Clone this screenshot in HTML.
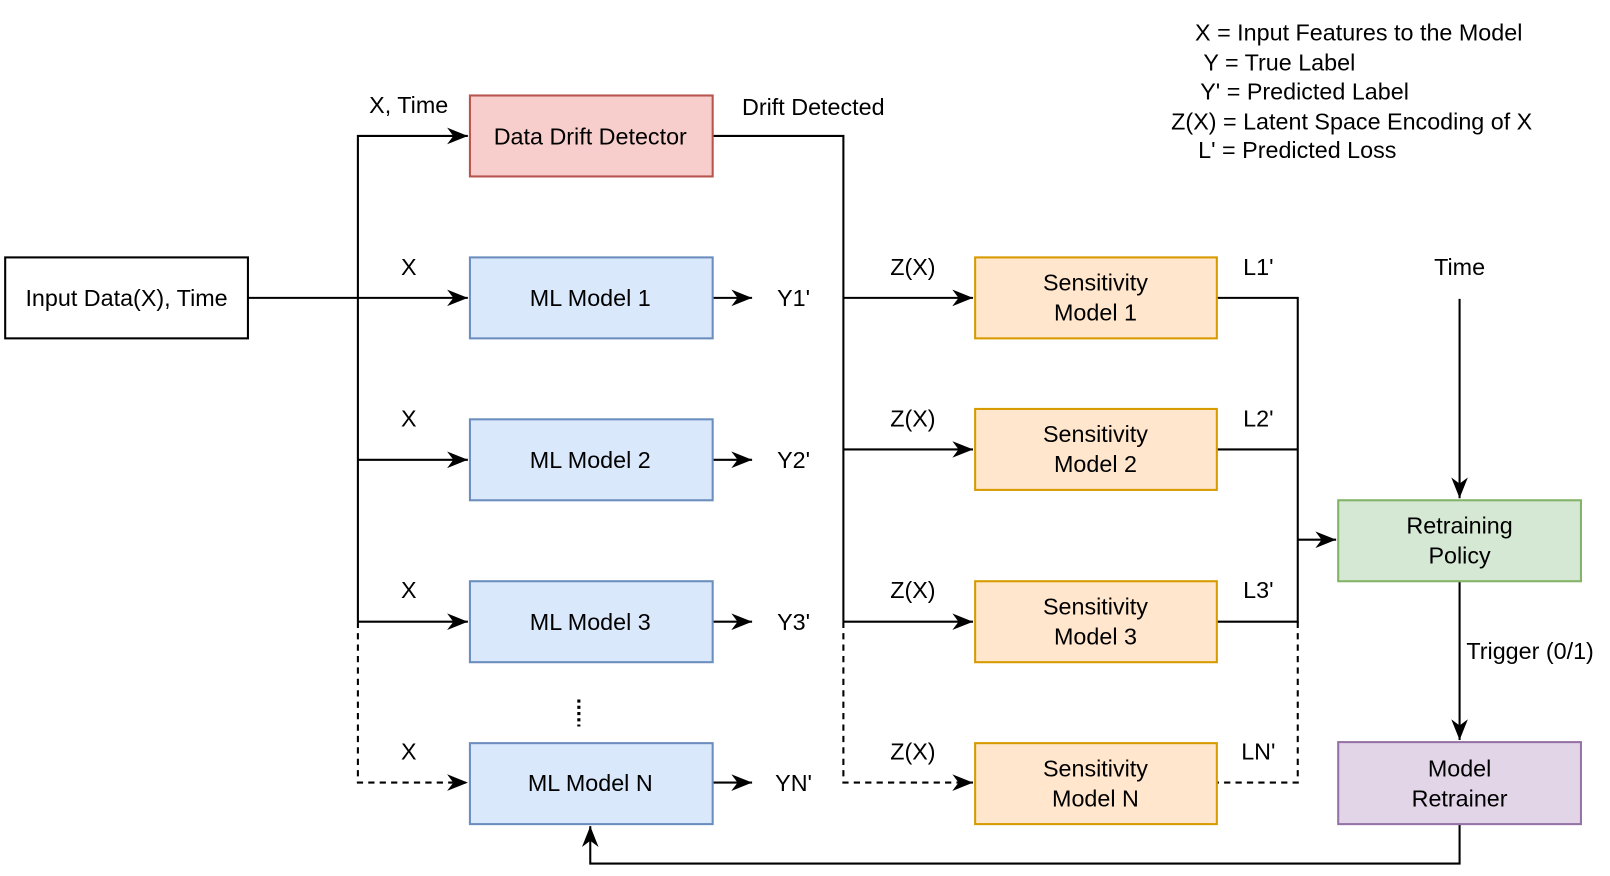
<!DOCTYPE html>
<html><head><meta charset="utf-8"><style>
html,body{margin:0;padding:0;background:#fff;}
svg{display:block;}
text{font-family:"Liberation Sans",Arial,sans-serif;font-size:22.5px;fill:#000;}
</style></head><body>
<svg width="1610" height="876" viewBox="0 0 1552 844" preserveAspectRatio="none" xmlns="http://www.w3.org/2000/svg">
<defs>
<marker id="b" viewBox="0 0 20 20" refX="20" refY="10" markerWidth="20" markerHeight="20" markerUnits="userSpaceOnUse" orient="auto">
<path d="M0,2 L20,10 L0,18 L6,10 Z" fill="#000"/>
</marker>
</defs>
<g fill="none" stroke="#000" stroke-width="2">
<path d="M239,287 H345"/>
<path d="M345,599 V131 H451" marker-end="url(#b)"/>
<path d="M345,287 H451" marker-end="url(#b)"/>
<path d="M345,443 H451" marker-end="url(#b)"/>
<path d="M345,599 H451" marker-end="url(#b)"/>
<path d="M345,599 V754 H451" stroke-dasharray="6 5" marker-end="url(#b)"/>
<path d="M687,287 H725" marker-end="url(#b)"/>
<path d="M687,443 H725" marker-end="url(#b)"/>
<path d="M687,599 H725" marker-end="url(#b)"/>
<path d="M687,754 H725" marker-end="url(#b)"/>
<path d="M687,131 H813 V599"/>
<path d="M813,287 H938" marker-end="url(#b)"/>
<path d="M813,433 H938" marker-end="url(#b)"/>
<path d="M813,599 H938" marker-end="url(#b)"/>
<path d="M813,599 V754 H938" stroke-dasharray="6 5" marker-end="url(#b)"/>
<path d="M1173,287 H1251 V599 H1173"/>
<path d="M1173,433 H1251"/>
<path d="M1251,599 V754 H1173" stroke-dasharray="6 5"/>
<path d="M1251,520 H1288" marker-end="url(#b)"/>
<path d="M1407,288 V480" marker-end="url(#b)"/>
<path d="M1407,560 V713" marker-end="url(#b)"/>
<path d="M1407,794 V832 H569 V796" marker-end="url(#b)"/>
<path d="M558,674 V700" stroke-width="3" stroke-dasharray="3 3"/>
</g>
<rect x="5" y="248" width="234" height="78" fill="#fff" stroke="#000" stroke-width="2"/>
<rect x="453" y="92" width="234" height="78" fill="#f8cecc" stroke="#b85450" stroke-width="2"/>
<rect x="453" y="248" width="234" height="78" fill="#dae8fc" stroke="#6c8ebf" stroke-width="2"/>
<rect x="453" y="404" width="234" height="78" fill="#dae8fc" stroke="#6c8ebf" stroke-width="2"/>
<rect x="453" y="560" width="234" height="78" fill="#dae8fc" stroke="#6c8ebf" stroke-width="2"/>
<rect x="453" y="716" width="234" height="78" fill="#dae8fc" stroke="#6c8ebf" stroke-width="2"/>
<rect x="940" y="248" width="233" height="78" fill="#ffe6cc" stroke="#d79b00" stroke-width="2"/>
<rect x="940" y="394" width="233" height="78" fill="#ffe6cc" stroke="#d79b00" stroke-width="2"/>
<rect x="940" y="560" width="233" height="78" fill="#ffe6cc" stroke="#d79b00" stroke-width="2"/>
<rect x="940" y="716" width="233" height="78" fill="#ffe6cc" stroke="#d79b00" stroke-width="2"/>
<rect x="1290" y="482" width="234" height="78" fill="#d5e8d4" stroke="#82b366" stroke-width="2"/>
<rect x="1290" y="715" width="234" height="79" fill="#e1d5e7" stroke="#9673a6" stroke-width="2"/>
<g text-anchor="middle">
<text x="122" y="295">Input Data(X), Time</text>
<text x="569" y="139">Data Drift Detector</text>
<text x="569" y="295">ML Model 1</text>
<text x="569" y="451">ML Model 2</text>
<text x="569" y="607">ML Model 3</text>
<text x="569" y="762">ML Model N</text>
<text x="1056" y="280">Sensitivity</text><text x="1056" y="309">Model 1</text>
<text x="1056" y="426">Sensitivity</text><text x="1056" y="455">Model 2</text>
<text x="1056" y="592">Sensitivity</text><text x="1056" y="621">Model 3</text>
<text x="1056" y="748">Sensitivity</text><text x="1056" y="777">Model N</text>
<text x="1407" y="514">Retraining</text><text x="1407" y="543">Policy</text>
<text x="1407" y="748">Model</text><text x="1407" y="777">Retrainer</text>
<text x="394" y="109">X, Time</text>
<text x="394" y="265">X</text>
<text x="394" y="411">X</text>
<text x="394" y="576">X</text>
<text x="394" y="732">X</text>
<text x="784" y="111">Drift Detected</text>
<text x="765" y="295">Y1'</text>
<text x="765" y="451">Y2'</text>
<text x="765" y="607">Y3'</text>
<text x="765" y="762">YN'</text>
<text x="880" y="265">Z(X)</text>
<text x="880" y="411">Z(X)</text>
<text x="880" y="576">Z(X)</text>
<text x="880" y="732">Z(X)</text>
<text x="1213" y="265">L1'</text>
<text x="1213" y="411">L2'</text>
<text x="1213" y="576">L3'</text>
<text x="1213" y="732">LN'</text>
<text x="1407" y="265">Time</text>
<text x="1475" y="635">Trigger (0/1)</text>
</g>
<text x="1152" y="39">X = Input Features to the Model</text>
<text x="1160" y="68">Y = True Label</text>
<text x="1157" y="96">Y' = Predicted Label</text>
<text x="1129" y="125">Z(X) = Latent Space Encoding of X</text>
<text x="1155" y="152">L' = Predicted Loss</text>
</svg>
</body></html>
